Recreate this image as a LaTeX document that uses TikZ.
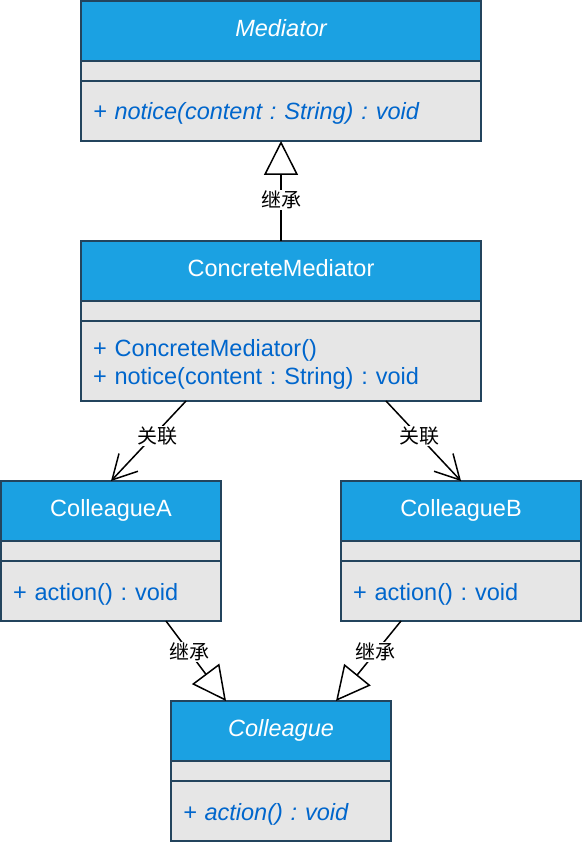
\documentclass[tikz,border=0pt]{standalone}
\usepackage{fontspec}
\setmainfont{Liberation Sans}
\newfontfamily\cjk{Noto Sans CJK SC}
\usetikzlibrary{arrows.meta,positioning}
\frenchspacing

\definecolor{headblue}{HTML}{1BA1E2}
\definecolor{linenavy}{HTML}{23445D}
\definecolor{bodygray}{HTML}{E6E6E6}
\definecolor{opsblue}{HTML}{0066CC}

\begin{document}
\begin{tikzpicture}[x=1pt, y=-1pt,
	box/.style = {draw=linenavy, line width=1.5pt, inner sep=0pt, outer sep=0pt,
		minimum width=#1},
	head/.style = {box=#1, fill=headblue, text=white, minimum height=60pt,
		text height=17pt, text depth=6.5pt, font=\fontsize{23.5}{28}\selectfont},
	blank/.style = {box=#1, fill=bodygray, minimum height=20pt},
	ops/.style = {box=#1, fill=bodygray, text=opsblue, align=left,
		inner xsep=12pt, text height=20pt, text depth=2pt,
		font=\fontsize{23.5}{28}\selectfont},
	tag/.style = {fill=white, inner sep=1pt, font=\cjk\fontsize{20}{22}\selectfont},
	inherit/.style = {line width=1.5pt, -{Triangle[open, length=34pt, width=34pt, line width=1.5pt]}},
	assoc/.style = {line width=1.5pt, -{Straight Barb[length=24pt, width=26pt, line width=1.5pt]}}]

	\useasboundingbox (0,0) rectangle (582,842);

	% abstract mediator
	\node[head=400pt, font=\itshape\fontsize{23.5}{28}\selectfont] (med) at (281,31) {Mediator};
	\node[blank=400pt, below=0pt of med] (med-attr) {};
	\node[ops=400pt, text width=376pt, minimum height=60pt, below=0pt of med-attr,
		font=\itshape\fontsize{23.5}{28}\selectfont] (med-ops) {+ notice(content : String) : void};

	% concrete mediator
	\node[head=400pt] (cm) at (281,271) {ConcreteMediator};
	\node[blank=400pt, below=0pt of cm] (cm-attr) {};
	\node[ops=400pt, text width=376pt, minimum height=80pt, text height=20pt, text depth=30pt,
		below=0pt of cm-attr] (cm-ops)
		{+ ConcreteMediator()\\+ notice(content : String) : void};

	% colleagues
	\node[head=220pt] (ca) at (111,511) {ColleagueA};
	\node[blank=220pt, below=0pt of ca] (ca-attr) {};
	\node[ops=220pt, text width=196pt, minimum height=60pt, below=0pt of ca-attr] (ca-ops) {+ action() : void};

	\node[head=240pt] (cb) at (461,511) {ColleagueB};
	\node[blank=240pt, below=0pt of cb] (cb-attr) {};
	\node[ops=240pt, text width=216pt, minimum height=60pt, below=0pt of cb-attr] (cb-ops) {+ action() : void};

	% abstract colleague
	\node[head=220pt, font=\itshape\fontsize{23.5}{28}\selectfont] (col) at (281,731) {Colleague};
	\node[blank=220pt, below=0pt of col] (col-attr) {};
	\node[ops=220pt, text width=196pt, minimum height=60pt, below=0pt of col-attr,
		font=\itshape\fontsize{23.5}{28}\selectfont] (col-ops) {+ action() : void};

	% relations
	\draw[inherit] (cm.north) -- node[tag, pos=0.41] {继承} (med-ops.south);
	\draw[assoc] ([xshift=-95pt]cm-ops.south) -- node[tag, pos=0.44, xshift=4pt] {关联} (ca.north);
	\draw[assoc] ([xshift=105pt]cm-ops.south) -- node[tag, pos=0.44] {关联} (cb.north);
	\draw[inherit] ([xshift=55pt]ca-ops.south) -- node[tag, pos=0.39] {继承} ([xshift=-55pt]col.north);
	\draw[inherit] ([xshift=-60pt]cb-ops.south) -- node[tag, pos=0.39] {继承} ([xshift=55pt]col.north);
\end{tikzpicture}
\end{document}
